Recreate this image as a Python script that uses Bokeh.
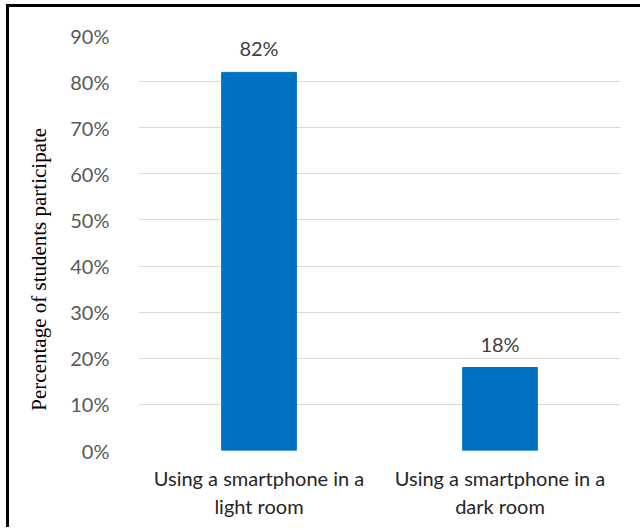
from bokeh.plotting import figure
from bokeh.models import ColumnDataSource, LabelSet, NumeralTickFormatter, FixedTicker
from bokeh.core.properties import value
from bokeh.embed import file_html
from bokeh.resources import INLINE

categories = ["Using a smartphone in a\nlight room", "Using a smartphone in a\ndark room"]
values = [0.82, 0.18]
labels = ["82%", "18%"]
y_ticks = [0, 0.1, 0.2, 0.3, 0.4, 0.5, 0.6, 0.7, 0.8, 0.9]
y_title = "Percentage of students participate"

src = ColumnDataSource(dict(cat=categories, val=values, lab=labels))

p = figure(x_range=categories, y_range=(0, 0.9), width=634, height=523,
           output_backend="svg", toolbar_location=None,
           min_border_left=129, min_border_right=23, min_border_top=28, min_border_bottom=80)
p.styles = {"margin-left": "6px", "margin-top": "4px",
            "border-top": "3px solid black", "border-left": "3px solid black"}
p.outline_line_color = None
p.background_fill_color = "white"
p.border_fill_color = "white"

p.vbar(x="cat", top="val", width=0.31, source=src, color="#0070C0")

p.yaxis.ticker = FixedTicker(ticks=y_ticks)
p.yaxis.formatter = NumeralTickFormatter(format="0%")
p.yaxis.axis_label = y_title + "\u00a0" * 10
p.yaxis.axis_label_text_font = "Liberation Serif"
p.yaxis.axis_label_text_font_style = "normal"
p.yaxis.axis_label_text_font_size = "21px"
p.yaxis.axis_label_text_color = "black"
p.yaxis.axis_label_standoff = 16
p.yaxis.major_label_standoff = 23
p.yaxis.major_label_text_font = "Lato"
p.yaxis.major_label_text_font_size = "20px"
p.yaxis.major_label_text_color = "#595959"

p.xaxis.major_label_text_font = "Lato"
p.xaxis.major_label_text_font_size = "20px"
p.xaxis.major_label_text_color = "#262626"
p.xaxis.major_label_standoff = 9

for ax in (p.xaxis, p.yaxis):
    ax.axis_line_color = None
    ax.major_tick_line_color = None
    ax.minor_tick_line_color = None

p.xgrid.grid_line_color = None
p.ygrid.grid_line_color = "#D9D9D9"
p.ygrid.grid_line_width = 1

lbl = LabelSet(x="cat", y="val", text="lab", source=src, text_align="center",
               text_baseline="bottom", y_offset=12, text_font=value("Lato"),
               text_font_size="20px", text_color="#404040")
p.add_layout(lbl)

open("out.html", "w").write(file_html(p, INLINE))
